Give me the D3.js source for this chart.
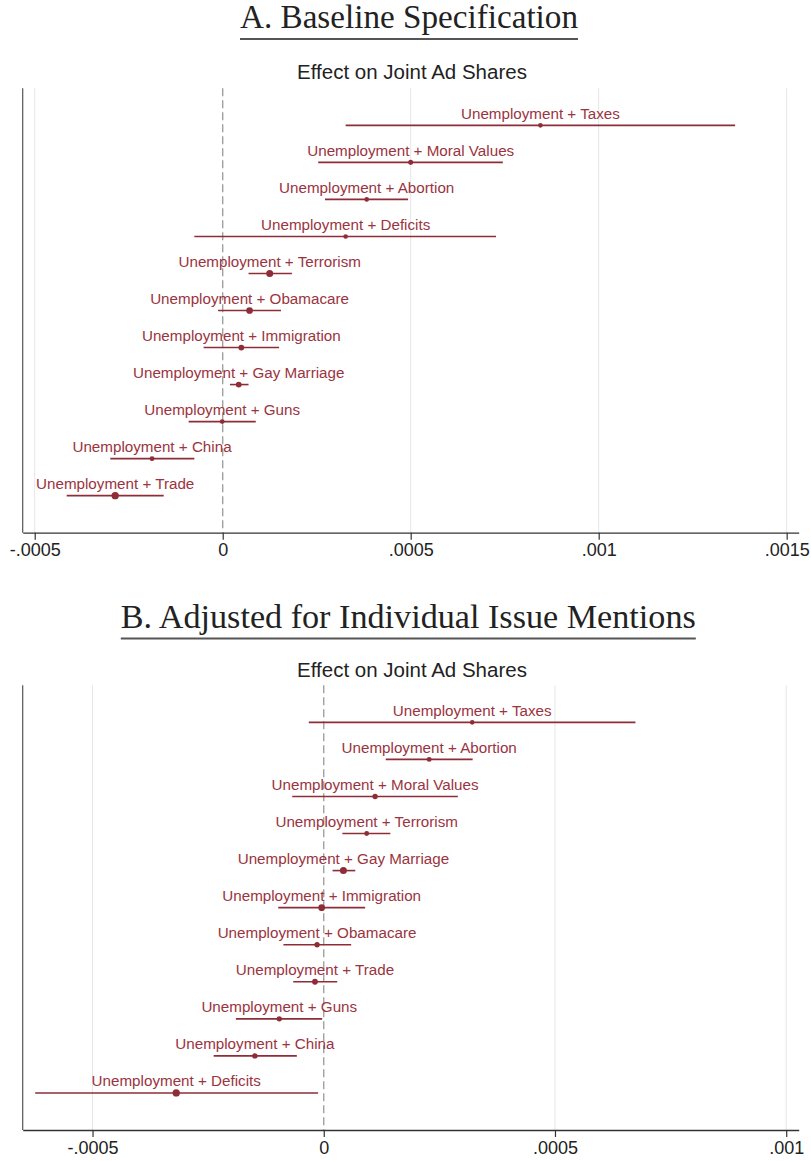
<!DOCTYPE html>
<html>
<head>
<meta charset="utf-8">
<script src="https://cdn.jsdelivr.net/npm/d3@7"></script>
<style>
  body { margin: 0; background: #fff; }
  svg { display: block; }
</style>
</head>
<body>
<div id="app"></div>
<script>
// Panel A: baseline specification (rows top to bottom)
const issuesA = ["Taxes", "Moral Values", "Abortion", "Deficits", "Terrorism", "Obamacare",
                 "Immigration", "Gay Marriage", "Guns", "China", "Trade"]
const estA = [0.000845, 0.000500, 0.000383, 0.000327, 0.000125, 0.0000714,
              0.0000495, 0.0000426, -0.0000014, -0.000188, -0.000286]
const loA = [0.000327, 0.000254, 0.000272, -0.0000755, 0.0000687, -0.0000124,
             -0.0000508, 0.0000192, -0.0000907, -0.000299, -0.000415]
const hiA = [0.001363, 0.000745, 0.000493, 0.000727, 0.000184, 0.000155,
             0.000150, 0.0000687, 0.0000879, -0.0000755, -0.000157]
const weightA = [1, 1.3, 1, 1, 2.6, 2.4, 1.8, 1.8, 1.2, 1.2, 2.8]

// Panel B: adjusted for individual issue mentions
const issuesB = ["Taxes", "Abortion", "Moral Values", "Terrorism", "Gay Marriage", "Immigration",
                 "Obamacare", "Trade", "Guns", "China", "Deficits"]
const estB = [0.000321, 0.000228, 0.000111, 0.0000928, 0.0000425, -0.0000045,
              -0.0000145, -0.000019, -0.0000962, -0.000149, -0.000319]
const loB = [-0.0000324, 0.000134, -0.0000682, 0.0000403, 0.0000190, -0.0000984,
             -0.0000872, -0.0000660, -0.000190, -0.000238, -0.000624]
const hiB = [0.000674, 0.000322, 0.000290, 0.000144, 0.0000682, 0.0000895,
             0.0000593, 0.0000291, -0.0000034, -0.0000582, -0.0000123]
const weightB = [1, 1.2, 1.5, 1.2, 2.6, 2.4, 1.5, 1.8, 1.5, 1.5, 2.8]

const ticksA = [-0.0005, 0, 0.0005, 0.001, 0.0015]
const tickLabelsA = ["-.0005", "0", ".0005", ".001", ".0015"]
const ticksB = [-0.0005, 0, 0.0005, 0.001]
const tickLabelsB = ["-.0005", "0", ".0005", ".001"]

const width = 811, height = 1161
const red = "#8e2c38"
const sans = "'Liberation Sans', Arial, sans-serif"

let svg = d3.select("#app").append("svg")
    .attr("width", width)
    .attr("height", height)

svg.append("rect").attr("width", width).attr("height", height).attr("fill", "#fff")

let rScale = d3.scaleLinear().domain([1, 3]).range([2.3, 3.8])

function drawPanel(cfg) {
    let g = svg.append("g")

    // heading with rule under it
    g.append("text")
        .attr("x", cfg.titleX)
        .attr("y", cfg.titleY)
        .attr("text-anchor", "middle")
        .attr("font-family", "'Liberation Serif', 'Times New Roman', serif")
        .attr("font-size", 33)
        .attr("fill", "#222")
        .attr("textLength", cfg.titleW)
        .attr("lengthAdjust", "spacingAndGlyphs")
        .text(cfg.title)
    g.append("line")
        .attr("x1", cfg.titleX - cfg.titleW / 2)
        .attr("x2", cfg.titleX + cfg.titleW / 2)
        .attr("y1", cfg.titleY + 11).attr("y2", cfg.titleY + 11)
        .attr("stroke", "#555").attr("stroke-width", 1.8)

    g.append("text")
        .attr("x", 412)
        .attr("y", cfg.subY)
        .attr("text-anchor", "middle")
        .attr("font-family", sans)
        .attr("font-size", 20.5)
        .attr("fill", "#222")
        .text("Effect on Joint Ad Shares")

    let x = d3.scaleLinear().domain(cfg.domain).range([22.7, 798.7])
    let y = d3.scalePoint().domain(cfg.issues).range([cfg.top, cfg.bottom]).padding(1)

    // grid
    g.append("g").selectAll("line")
        .data(cfg.ticks.filter(t => t !== 0))
        .enter().append("line")
        .attr("x1", d => x(d)).attr("x2", d => x(d))
        .attr("y1", cfg.top).attr("y2", cfg.bottom)
        .attr("stroke", "#e6e6e6").attr("stroke-width", 1)

    // zero reference
    g.append("line")
        .attr("x1", x(0)).attr("x2", x(0))
        .attr("y1", cfg.top).attr("y2", cfg.bottom)
        .attr("stroke", "#9a9a9a").attr("stroke-width", 1.3)
        .attr("stroke-dasharray", "8,4")

    // left axis line
    g.append("line")
        .attr("x1", 22.7).attr("x2", 22.7)
        .attr("y1", cfg.top).attr("y2", cfg.bottom)
        .attr("stroke", "#555").attr("stroke-width", 1.2)

    let axis = g.append("g")
        .attr("transform", "translate(0," + cfg.bottom + ")")
        .call(d3.axisBottom(x)
            .tickValues(cfg.ticks)
            .tickFormat((d, i) => cfg.tickLabels[i])
            .tickSize(7)
            .tickSizeOuter(0))
    axis.select(".domain").attr("stroke", "#333").attr("stroke-width", 1.3)
    axis.selectAll(".tick line").attr("stroke", "#333").attr("stroke-width", 1.2)
    axis.selectAll(".tick text")
        .attr("font-family", sans)
        .attr("font-size", 18)
        .attr("fill", "#222")
        .attr("y", 11)

    let rows = cfg.issues.map((d, i) => ({
        name: d, est: cfg.est[i], lo: cfg.lo[i], hi: cfg.hi[i], w: cfg.weight[i]
    }))

    let row = g.append("g").selectAll(".row")
        .data(rows)
        .enter().append("g")
        .attr("class", "row")

    row.append("line")
        .attr("x1", d => x(d.lo)).attr("x2", d => x(d.hi))
        .attr("y1", d => y(d.name)).attr("y2", d => y(d.name))
        .attr("stroke", red).attr("stroke-width", 1.6)

    row.append("circle")
        .attr("cx", d => x(d.est))
        .attr("cy", d => y(d.name))
        .attr("r", d => rScale(d.w))
        .attr("fill", red)

    row.append("text")
        .attr("x", d => x(d.est))
        .attr("y", d => y(d.name) - 6.5)
        .attr("text-anchor", "middle")
        .attr("font-family", sans)
        .attr("font-size", 15.2)
        .attr("fill", "#9a3440")
        .text(d => "Unemployment + " + d.name)
}

drawPanel({
    title: "A. Baseline Specification", titleX: 409, titleW: 338, titleY: 28, subY: 79,
    top: 88.3, bottom: 532.7, domain: [-0.000532, 0.001532],
    ticks: ticksA, tickLabels: tickLabelsA,
    issues: issuesA, est: estA, lo: loA, hi: hiA, weight: weightA
})

drawPanel({
    title: "B. Adjusted for Individual Issue Mentions", titleX: 408.3, titleW: 575, titleY: 627.5, subY: 676.7,
    top: 685.3, bottom: 1130, domain: [-0.000651, 0.001027],
    ticks: ticksB, tickLabels: tickLabelsB,
    issues: issuesB, est: estB, lo: loB, hi: hiB, weight: weightB
})
</script>
</body>
</html>
